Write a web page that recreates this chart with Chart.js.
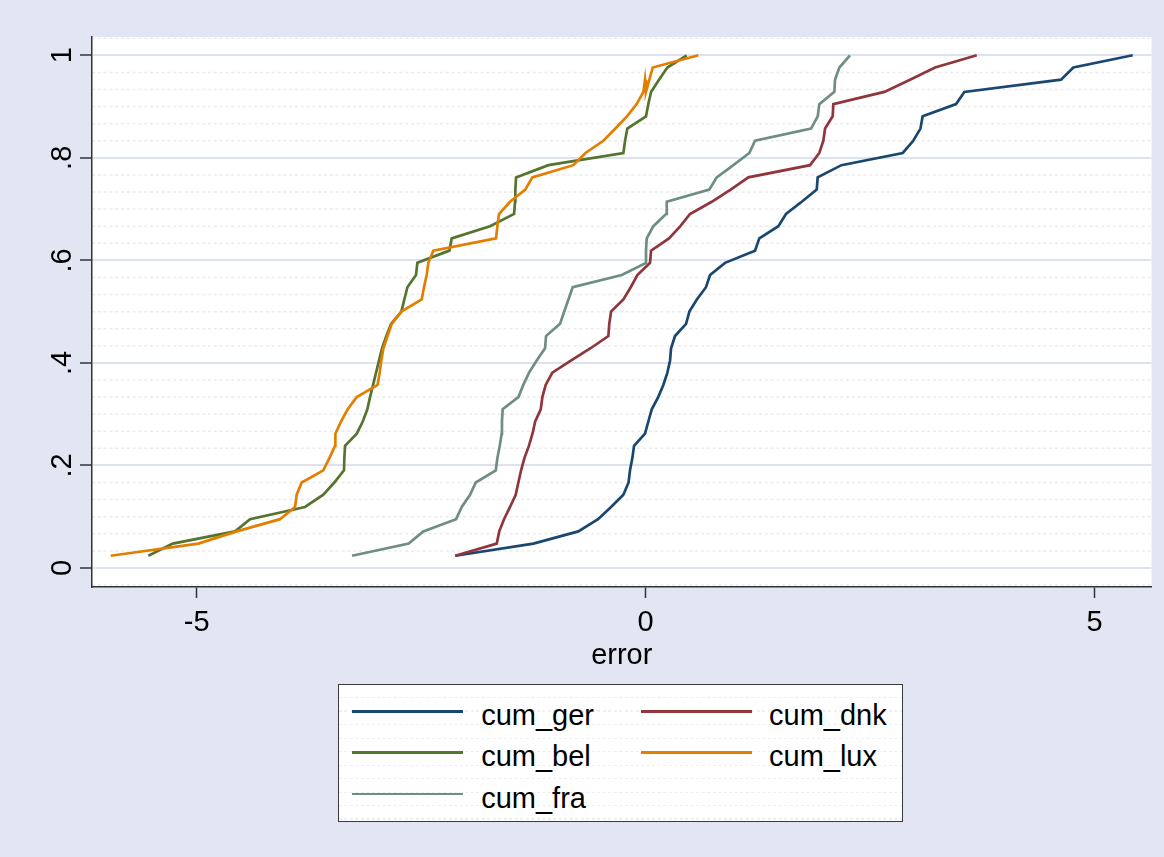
<!DOCTYPE html>
<html><head><meta charset="utf-8">
<script src="https://cdn.jsdelivr.net/npm/chart.js@4/dist/chart.umd.min.js"></script>
<style>
html,body{margin:0;padding:0;background:#e2e6f2;}
#wrap{position:relative;width:1164px;height:857px;overflow:hidden;}
#c{position:absolute;left:0;top:0;}
#legend{position:absolute;left:338px;top:684px;width:565px;height:138px;box-sizing:border-box;border:1.5px solid #3a3a3a;background-color:#fff;
background-image:repeating-linear-gradient(to right, rgba(255,255,255,0) 0 3px, #fff 3px 5.5px), repeating-linear-gradient(to bottom, #fff 0 12px, #efefef 12px 13.5px);}
.item{position:absolute;font-family:"Liberation Sans",Arial,Helvetica,sans-serif;font-size:29px;line-height:1;color:#000;white-space:nowrap;}
.swatch{position:absolute;height:2.6px;}
</style></head>
<body>
<div id="wrap"><canvas id="c" width="1164" height="857"></canvas><div id="legend"></div></div>
<script>
// ---- data ----
const seriesNames = ['cum_ger','cum_dnk','cum_bel','cum_lux','cum_fra'];
const seriesColors = ['#1a476f','#90353b','#55752f','#e37e00','#6e8e84'];
const cumY = [0.0238,0.0476,0.0714,0.0952,0.1190,0.1429,0.1667,0.1905,0.2143,0.2381,0.2619,0.2857,0.3095,0.3333,0.3571,0.3810,0.4048,0.4286,0.4524,0.4762,0.5000,0.5238,0.5476,0.5714,0.5952,0.6190,0.6429,0.6667,0.6905,0.7143,0.7381,0.7619,0.7857,0.8095,0.8333,0.8571,0.8810,0.9048,0.9286,0.9524,0.9762,1.0000];
const luxY = [0.0238,0.0476,0.0714,0.0952,0.1190,0.1429,0.1667,0.1905,0.2143,0.2381,0.2619,0.2857,0.3095,0.3333,0.3571,0.3810,0.4048,0.4286,0.4524,0.4762,0.5000,0.5238,0.5476,0.5714,0.5952,0.6190,0.6429,0.6667,0.6905,0.7143,0.7381,0.7619,0.7857,0.8095,0.8333,0.8571,0.8810,0.9048,0.9286,0.9524,0.9286,0.9762,1.0000];
const gerX = [-2.12,-1.25,-0.75,-0.53,-0.385,-0.248,-0.19,-0.174,-0.148,-0.129,-0.007,0.03,0.068,0.14,0.197,0.242,0.272,0.283,0.327,0.45,0.487,0.57,0.672,0.717,0.884,1.218,1.266,1.478,1.563,1.738,1.905,1.916,2.18,2.863,2.98,3.06,3.085,3.457,3.549,4.626,4.763,5.424];
const dnkX = [-2.12,-1.658,-1.63,-1.577,-1.51,-1.447,-1.417,-1.387,-1.35,-1.30,-1.26,-1.23,-1.168,-1.15,-1.113,-1.039,-0.829,-0.613,-0.415,-0.405,-0.385,-0.248,-0.166,-0.092,0.049,0.06,0.26,0.387,0.494,0.736,0.947,1.144,1.831,1.934,1.979,1.998,2.083,2.09,2.658,2.944,3.223,3.687];
const belX = [-5.538,-5.266,-4.572,-4.405,-3.793,-3.589,-3.467,-3.359,-3.355,-3.347,-3.217,-3.15,-3.099,-3.069,-3.035,-3.002,-2.969,-2.935,-2.887,-2.835,-2.72,-2.687,-2.653,-2.557,-2.542,-2.186,-2.159,-1.733,-1.465,-1.454,-1.451,-1.443,-1.083,-0.248,-0.229,-0.204,0.004,0.03,0.06,0.149,0.242,0.457];
const luxX = [-5.957,-4.981,-4.553,-4.071,-3.904,-3.886,-3.83,-3.589,-3.522,-3.459,-3.455,-3.392,-3.318,-3.217,-2.985,-2.962,-2.943,-2.92,-2.874,-2.827,-2.72,-2.494,-2.468,-2.438,-2.42,-2.364,-1.666,-1.651,-1.633,-1.51,-1.34,-1.262,-0.805,-0.67,-0.471,-0.337,-0.208,-0.1,-0.025,-0.007,0.004,0.079,0.587];
const fraX = [-3.27,-2.638,-2.476,-2.111,-2.048,-1.955,-1.892,-1.669,-1.651,-1.625,-1.603,-1.6,-1.592,-1.417,-1.362,-1.298,-1.213,-1.12,-1.109,-0.953,-0.907,-0.86,-0.812,-0.266,0.004,0.004,0.012,0.086,0.227,0.235,0.709,0.792,0.977,1.155,1.218,1.842,1.916,1.934,2.101,2.109,2.157,2.276];
const xTickValues = [-5, 0, 5];
const xTickLabels = ['-5', '0', '5'];
const yTickValues = [0, 0.2, 0.4, 0.6, 0.8, 1];
const yTickLabels = ['0', '.2', '.4', '.6', '.8', '1'];
const xTitle = 'error';

// ---- chart ----
const FONT = '"Liberation Sans", Arial, Helvetica, sans-serif';
const seriesX = [gerX, dnkX, belX, luxX, fraX];
const seriesY = [cumY, cumY, cumY, luxY, cumY];

const datasets = seriesNames.map((name, s) => ({
  label: name,
  data: seriesX[s].map((xv, i) => ({x: xv, y: seriesY[s][i]})),
  borderColor: seriesColors[s],
  backgroundColor: seriesColors[s],
  borderWidth: 2.7,
  pointRadius: 0,
  showLine: true,
  tension: 0,
  fill: false,
  order: 5 - s
}));

const plotBg = {
  id: 'plotBg',
  beforeDraw(chart) {
    const {ctx, chartArea: a, scales: {y}} = chart;
    ctx.save();
    ctx.fillStyle = '#ffffff';
    ctx.fillRect(a.left, a.top, a.right - a.left, a.bottom - a.top);
    ctx.strokeStyle = '#ebebeb';
    ctx.lineWidth = 1.5;
    ctx.setLineDash([3, 2.8]);
    for (let k = -1; k <= 31; k++) {
      if (k % 6 === 0) continue;
      const v = k / 30;
      if (v < y.min || v > y.max) continue;
      const py = y.getPixelForValue(v);
      ctx.beginPath(); ctx.moveTo(a.left, py); ctx.lineTo(a.right, py); ctx.stroke();
    }
    ctx.restore();
  }
};

new Chart(document.getElementById('c'), {
  type: 'scatter',
  data: { datasets },
  plugins: [plotBg],
  options: {
    responsive: false,
    animation: false,
    devicePixelRatio: 1,
    layout: { padding: { left: 0, top: 37, right: 12.5, bottom: 184 } },
    plugins: { legend: { display: false }, tooltip: { enabled: false } },
    scales: {
      x: {
        type: 'linear', position: 'bottom', min: -6.165, max: 5.633,
        afterBuildTicks: s => { s.ticks = xTickValues.map(v => ({value: v})); },
        afterFit: s => { s.height = 86; },
        ticks: { callback: v => xTickLabels[xTickValues.indexOf(v)], font: {family: FONT, size: 29}, color: '#000', padding: 8, maxRotation: 0, autoSkip: false },
        grid: { drawOnChartArea: false, drawTicks: true, tickLength: 11, tickColor: '#333', tickWidth: 1.5 },
        border: { display: true, color: '#333', width: 1.5 },
        title: { display: true, text: xTitle, font: {family: FONT, size: 29}, color: '#000', padding: {top: 0, bottom: 0} }
      },
      y: {
        type: 'linear', position: 'left', min: -0.0371, max: 1.0357,
        afterBuildTicks: s => { s.ticks = yTickValues.map(v => ({value: v})); },
        afterFit: s => { s.width = 92; },
        ticks: { callback: v => yTickLabels[yTickValues.indexOf(v)], font: {family: FONT, size: 29}, color: '#000', minRotation: 90, maxRotation: 90, crossAlign: 'center', padding: 5, autoSkip: false },
        grid: { color: '#dce2ee', lineWidth: 2, drawTicks: true, tickLength: 12, tickColor: '#333', tickWidth: 1.5 },
        border: { display: true, color: '#333', width: 1.5 }
      }
    }
  }
});

// ---- legend (HTML, 2 columns, row-wise) ----
const legend = document.getElementById('legend');
const colSwatchX = [12.5, 301.5], colTextX = [142.2, 430];
const rowTextTop = [15.7, 57.2, 98.7], rowSwatchTop = [25, 66.2, 107.8];
seriesNames.forEach((name, s) => {
  const r = Math.floor(s / 2), c = s % 2;
  const sw = document.createElement('div');
  sw.className = 'swatch';
  sw.style.left = colSwatchX[c] + 'px'; sw.style.top = rowSwatchTop[r] + 'px';
  sw.style.width = '111px'; sw.style.background = seriesColors[s];
  legend.appendChild(sw);
  const t = document.createElement('div');
  t.className = 'item';
  t.style.left = colTextX[c] + 'px'; t.style.top = rowTextTop[r] + 'px';
  t.textContent = name;
  legend.appendChild(t);
});
</script>
</body></html>
